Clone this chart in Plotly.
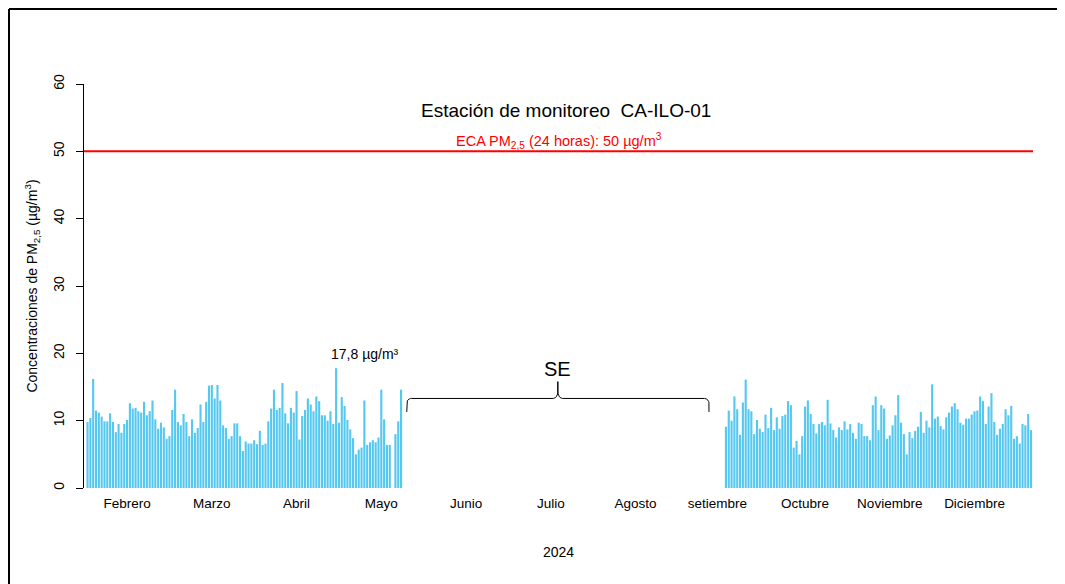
import numpy as np
import pandas as pd
import plotly.graph_objects as go

# la página añade 8 px de margen al body: se compensa aquí
OFF = 8
W, H = 1065 - OFF, 584 - OFF
# área de trazado (px de la ventana)
L, R, T, B = 84, 1033, 84, 488

# concentraciones diarias PM2,5 (ug/m3) - 1 feb a 22 may
feb_may = [9.8, 10.4, 16.2, 11.5, 11.2, 10.6, 9.9, 9.9, 11.1, 9.8,
           8.3, 9.5, 8.2, 9.5, 10.1, 12.6, 11.8, 11.9, 11.4, 11.2,
           12.8, 10.8, 11.4, 13.0, 10.2, 8.8, 9.7, 9.0, 7.3, 7.7,
           11.6, 14.6, 9.8, 9.3, 11.0, 9.8, 7.7, 10.2, 8.2, 8.9,
           12.4, 9.8, 12.8, 15.2, 15.3, 13.3, 15.3, 13.0, 9.3, 8.9,
           7.3, 7.7, 9.6, 9.6, 7.7, 5.5, 6.9, 6.6, 6.6, 7.1,
           6.5, 8.5, 6.4, 6.6, 9.9, 11.8, 14.6, 11.6, 11.9, 15.6,
           11.1, 9.6, 11.9, 11.2, 14.4, 7.2, 10.7, 11.6, 13.3, 12.4,
           11.4, 13.6, 12.9, 10.8, 10.8, 10.0, 11.4, 9.5, 17.8, 9.7,
           13.5, 12.2, 10.1, 8.7, 7.4, 5.0, 5.7, 6.0, 13.0, 6.4,
           6.8, 7.1, 6.8, 7.5, 14.6, 10.2, 6.4, 6.4, None, 8.0,
           9.9, 14.6]

# 14 set a 31 dic
sep_dic = [9.1, 11.5, 10.0, 13.6, 11.7, 7.9, 12.7, 16.1, 11.7, 11.4,
           8.0, 10.1, 8.8, 8.3, 10.9, 8.9, 11.9, 8.6, 10.5, 8.8,
           10.7, 10.9, 12.9, 12.3, 6.0, 7.0, 5.0, 7.7, 12.1, 13.0,
           11.0, 9.5, 8.1, 9.5, 9.8, 9.3, 13.1, 9.6, 8.6, 7.5,
           9.0, 8.6, 9.9, 8.7, 9.5, 8.2, 7.3, 9.7, 9.5, 7.7,
           7.7, 7.1, 12.3, 13.6, 8.6,
           12.3, 11.8, 7.3, 7.8, 9.3, 10.8, 13.8, 9.7, 8.0, 5.0,
           8.3, 7.4, 8.5, 9.1, 11.3, 8.2, 10.0, 9.0, 15.4, 10.3,
           10.6, 9.2, 8.7, 10.5, 11.2, 12.1, 12.6, 11.7, 9.7, 9.4,
           10.3, 10.3, 10.9, 11.4, 11.5, 13.6, 12.9, 9.5, 12.1, 14.1,
           9.8, 7.9, 8.8, 9.5, 11.7, 10.8, 12.2, 7.3, 7.7, 6.6,
           9.5, 9.3, 11.0, 8.6]

inicio_1 = "2024-02-01"
inicio_2 = "2024-09-14"

meses = ["Febrero", "Marzo", "Abril", "Mayo", "Junio", "Julio", "Agosto",
         "setiembre", "Octubre", "Noviembre", "Diciembre"]
pos_meses = ["2024-02-15", "2024-03-16", "2024-04-15", "2024-05-15", "2024-06-14",
             "2024-07-14", "2024-08-13", "2024-09-11", "2024-10-12", "2024-11-11",
             "2024-12-11"]

eca = 50
llave_ini = "2024-05-24"
llave_fin = "2024-09-08"


def px_x(p):
    return (p - L) / (R - L)


def px_y(p):
    return (B - p) / (B - T)


fechas = list(pd.date_range(inicio_1, periods=len(feb_may), freq="D")) + \
    list(pd.date_range(inicio_2, periods=len(sep_dic), freq="D"))
valores = feb_may + sep_dic
serie = pd.Series(valores, index=fechas, dtype=float)
fecha_max = serie.idxmax()
maximo = serie.max()


# llave horizontal sobre el periodo sin evaluar
def llave(x0, x1, y0, baja=2.0, pico=2.5, r=1.6, e=0.7, em=1.0):
    t0 = pd.Timestamp(x0)
    d1 = (pd.Timestamp(x1) - t0) / pd.Timedelta(days=1)
    m = d1 / 2
    xs, ys = [0.0], [y0 - baja]
    a = np.linspace(np.pi, np.pi / 2, 10)
    xs += list(r + r * np.cos(a)); ys += list(y0 - e + e * np.sin(a))
    a = np.linspace(-np.pi / 2, 0, 10)
    xs += list(m - r + r * np.cos(a)); ys += list(y0 + em + em * np.sin(a))
    xs += [m, m]; ys += [y0 + pico, y0 + em]
    a = np.linspace(np.pi, 1.5 * np.pi, 10)
    xs += list(m + r + r * np.cos(a)); ys += list(y0 + em + em * np.sin(a))
    a = np.linspace(np.pi / 2, 0, 10)
    xs += list(d1 - r + r * np.cos(a)); ys += list(y0 - e + e * np.sin(a))
    xs += [d1]; ys += [y0 - baja]
    xd = [t0 + pd.Timedelta(days=float(v)) for v in xs]
    return xd, ys, t0 + pd.Timedelta(days=m)


fuente = "Liberation Sans, Arial, sans-serif"

fig = go.Figure()
fig.add_trace(go.Bar(x=fechas, y=valores, marker_color="#55C8F0",
                     marker_line_width=0, hoverinfo="x+y"))

lx, ly, lmed = llave(llave_ini, llave_fin, 13.3)
fig.add_trace(go.Scatter(x=lx, y=ly, mode="lines", line=dict(color="black", width=1),
                         hoverinfo="skip"))

fig.add_shape(type="line", xref="paper", yref="y", x0=0, x1=1, y0=eca, y1=eca,
              line=dict(color="#FF0000", width=2))

# marco negro (arriba e izquierda)
fig.add_shape(type="line", xref="paper", yref="paper", x0=px_x(OFF + 1), x1=px_x(1070),
              y0=px_y(OFF + 1), y1=px_y(OFF + 1), line=dict(color="black", width=2))
fig.add_shape(type="line", xref="paper", yref="paper", x0=px_x(OFF + 1), x1=px_x(OFF + 1),
              y0=px_y(OFF + 1), y1=px_y(590), line=dict(color="black", width=2))

fig.add_annotation(x=px_x(566), y=56, xref="paper", yref="y",
                   text="Estación de monitoreo\u00a0 CA-ILO-01", showarrow=False,
                   font=dict(size=19, color="black", family=fuente))
fig.add_annotation(x=0.5, y=eca, xref="paper", yref="y", yanchor="bottom", yshift=-2,
                   text="ECA PM<sub>2,5</sub> (24 horas): 50 µg/m<sup>3</sup>",
                   showarrow=False, font=dict(size=14.5, color="#FF0000", family=fuente))
fig.add_annotation(x=fecha_max, y=maximo, xanchor="left", yanchor="bottom",
                   xshift=-7, yshift=4, text=f"{maximo:.1f}".replace(".", ",") + " µg/m³",
                   showarrow=False, font=dict(size=14, color="black", family=fuente))
fig.add_annotation(x=lmed, y=17.6, text="SE", showarrow=False,
                   font=dict(size=20, color="black", family=fuente))

fig.update_layout(
    width=W, height=H,
    margin=dict(l=L - OFF, r=W + OFF - R, t=T - OFF, b=H + OFF - B, pad=0),
    plot_bgcolor="white", paper_bgcolor="white",
    showlegend=False, bargap=0.25,
    font=dict(family=fuente, size=13, color="black"),
    xaxis=dict(type="date", range=["2024-01-30 18:00", "2024-12-31 17:00"],
               tickvals=pos_meses, ticktext=meses, ticks="", showline=False,
               showgrid=False, zeroline=False, tickfont=dict(size=13.5),
               ticklabelstandoff=5,
               title=dict(text="2024", font=dict(size=14), standoff=37)),
    yaxis=dict(range=[0, 60], tickvals=list(range(0, 61, 10)), ticks="outside",
               ticklen=7, tickcolor="black", showline=True, linecolor="black",
               linewidth=1, showgrid=False, zeroline=False, tickangle=-90,
               tickfont=dict(size=14), ticklabelstandoff=6,
               title=dict(text="Concentraciones de PM<sub>2,5</sub> (µg/m<sup>3</sup>)",
                          font=dict(size=14), standoff=10)),
)

fig.write_html("out.html")
